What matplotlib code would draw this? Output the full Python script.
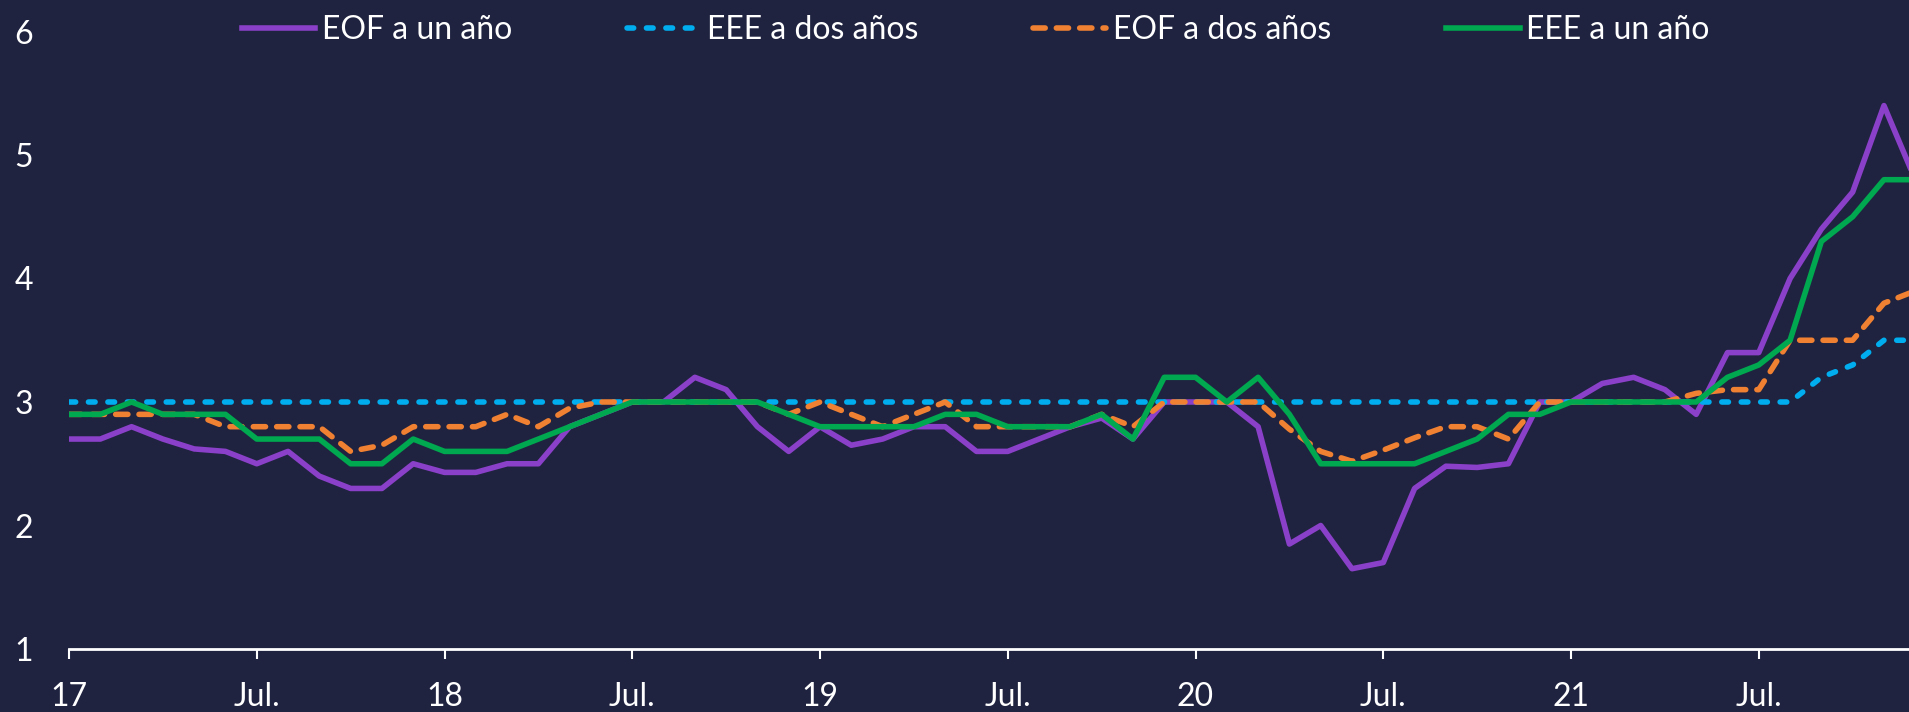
import matplotlib
matplotlib.use("Agg")
import matplotlib.pyplot as plt

plt.rcParams['font.family'] = ['Lato', 'DejaVu Sans']

# monthly, Jan 2017 .. Dec 2021
eof_1y = [2.7, 2.7, 2.8, 2.7, 2.62, 2.6, 2.5, 2.6, 2.4, 2.3, 2.3, 2.5,
          2.43, 2.43, 2.5, 2.5, 2.8, 2.9, 3.0, 3.0, 3.2, 3.1, 2.8, 2.6,
          2.8, 2.65, 2.7, 2.8, 2.8, 2.6, 2.6, 2.7, 2.8, 2.87, 2.7, 3.0,
          3.0, 3.0, 2.8, 1.85, 2.0, 1.65, 1.7, 2.3, 2.48, 2.47, 2.5, 3.0,
          3.0, 3.15, 3.2, 3.1, 2.9, 3.4, 3.4, 4.0, 4.4, 4.7, 5.4, 4.8]
eee_2y = [3.0] * 56 + [3.2, 3.3, 3.5, 3.5]
eof_2y = [2.9, 2.9, 2.9, 2.9, 2.9, 2.8, 2.8, 2.8, 2.8, 2.6, 2.65, 2.8,
          2.8, 2.8, 2.9, 2.8, 2.95, 3.0, 3.0, 3.0, 3.0, 3.0, 3.0, 2.9,
          3.0, 2.9, 2.8, 2.9, 3.0, 2.8, 2.8, 2.8, 2.8, 2.9, 2.8, 3.0,
          3.0, 3.0, 3.0, 2.78, 2.6, 2.52, 2.61, 2.71, 2.8, 2.8, 2.7, 3.0,
          3.0, 3.0, 3.0, 3.0, 3.07, 3.1, 3.1, 3.5, 3.5, 3.5, 3.8, 3.9]
eee_1y = [2.9, 2.9, 3.0, 2.9, 2.9, 2.9, 2.7, 2.7, 2.7, 2.5, 2.5, 2.7,
          2.6, 2.6, 2.6, 2.7, 2.8, 2.9, 3.0, 3.0, 3.0, 3.0, 3.0, 2.9,
          2.8, 2.8, 2.8, 2.8, 2.9, 2.9, 2.8, 2.8, 2.8, 2.9, 2.7, 3.2,
          3.2, 3.0, 3.2, 2.9, 2.5, 2.5, 2.5, 2.5, 2.6, 2.7, 2.9, 2.9,
          3.0, 3.0, 3.0, 3.0, 3.0, 3.2, 3.3, 3.5, 4.3, 4.5, 4.8, 4.8]

tick_pos = [0, 6, 12, 18, 24, 30, 36, 42, 48, 54]
tick_labels = ['17', 'Jul.', '18', 'Jul.', '19', 'Jul.', '20', 'Jul.', '21', 'Jul.']

bg = '#1F2340'
x = list(range(len(eof_1y)))

fig = plt.figure(figsize=(19.09, 7.12), dpi=100, facecolor=bg)
ax = fig.add_axes([69 / 1909, 1 - 649 / 712, 1 - 69 / 1909, (649 - 31.5) / 712])
ax.set_facecolor(bg)

lw = 4
l1, = ax.plot(x, eof_1y, color='#8A40C8', lw=lw, label='EOF a un año', zorder=2)
l2, = ax.plot(x, eee_2y, color='#00AEEF', lw=lw, ls=(0, (1.2, 2.3)),
              dash_capstyle='round', label='EEE a dos años', zorder=3)
l3, = ax.plot(x, eof_2y, color='#F08132', lw=lw, ls=(0, (2.2, 2.0)),
              dash_capstyle='round', label='EOF a dos años', zorder=4)
l4, = ax.plot(x, eee_1y, color='#00A84F', lw=lw, label='EEE a un año', zorder=5)

ax.set_xlim(0, 58.8)
ax.set_ylim(1, 6)
ax.set_xticks(tick_pos)
ax.set_xticklabels(tick_labels)
ax.set_yticks([1, 2, 3, 4, 5, 6])

for s in ['top', 'right', 'left']:
    ax.spines[s].set_visible(False)
ax.spines['bottom'].set_color('white')
ax.spines['bottom'].set_linewidth(2)
ax.tick_params(axis='x', colors='white', direction='out', length=7.5, width=1.5,
               labelsize=23, pad=16)
ax.tick_params(axis='y', colors='white', length=0, labelsize=23, pad=26)

fig.legend(handles=[l1, l2, l3, l4], loc='center', bbox_to_anchor=(0.511, 1 - 30 / 712),
           ncol=4, frameon=False, fontsize=23, labelcolor='white', handlelength=2.3,
           handletextpad=0.2, columnspacing=3.6)

fig.savefig('out.png', dpi=100, facecolor=bg)
